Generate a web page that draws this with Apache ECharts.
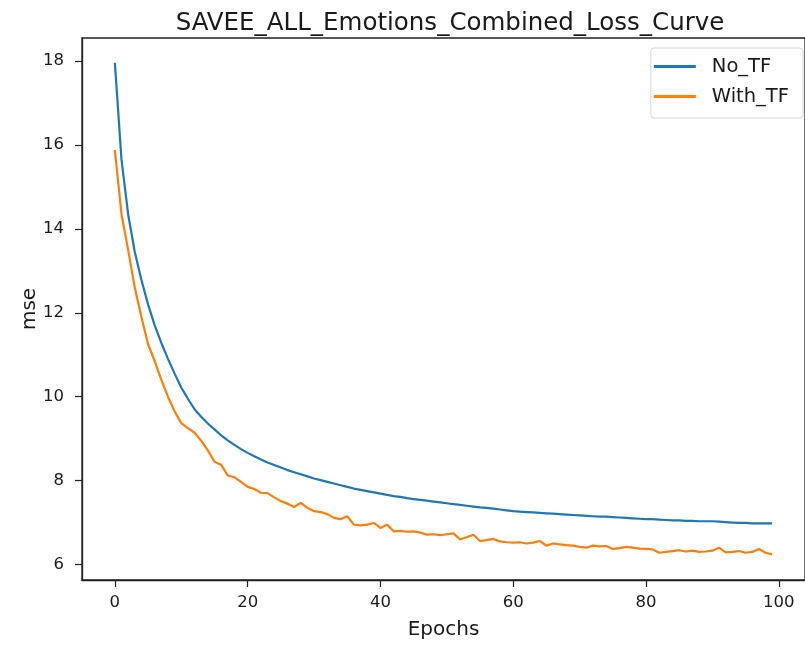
<!DOCTYPE html>
<html>

<head>
    <meta charset="utf-8">
    <script src="https://cdn.jsdelivr.net/npm/echarts@6/dist/echarts.min.js"></script>
    <style>
        html, body { margin: 0; padding: 0; background: #fff; }
        #main { width: 805px; height: 646px; }
    </style>
</head>

<body>
    <div id="main"></div>
    <script type="text/javascript">

        // values
        var noTF = [
            17.96, 15.65, 14.35, 13.45, 12.78, 12.2, 11.7, 11.28, 10.9, 10.55,
            10.22, 9.95, 9.7, 9.52, 9.36, 9.22, 9.08, 8.96, 8.85, 8.75,
            8.66, 8.58, 8.5, 8.43, 8.37, 8.31, 8.25, 8.2, 8.15, 8.1,
            8.05, 8.01, 7.97, 7.93, 7.89, 7.85, 7.81, 7.78, 7.75, 7.72,
            7.69, 7.66, 7.63, 7.61, 7.58, 7.56, 7.54, 7.52, 7.5, 7.48,
            7.46, 7.44, 7.42, 7.4, 7.38, 7.36, 7.35, 7.33, 7.31, 7.29,
            7.27, 7.26, 7.25, 7.24, 7.23, 7.22, 7.21, 7.2, 7.19, 7.18,
            7.17, 7.16, 7.15, 7.14, 7.14, 7.13, 7.12, 7.11, 7.1, 7.09,
            7.08, 7.08, 7.07, 7.06, 7.05, 7.05, 7.04, 7.04, 7.03, 7.03,
            7.03, 7.02, 7.01, 7.0, 6.99, 6.99, 6.98, 6.98, 6.98, 6.98
        ];
        var withTF = [
            15.88, 14.35, 13.5, 12.6, 11.9, 11.25, 10.85, 10.4, 10.0, 9.65,
            9.37, 9.25, 9.14, 8.95, 8.72, 8.45, 8.38, 8.12, 8.08, 7.97,
            7.85, 7.8, 7.71, 7.7, 7.6, 7.51, 7.45, 7.37, 7.47, 7.35,
            7.27, 7.25, 7.2, 7.11, 7.08, 7.15, 6.95, 6.93, 6.95, 6.99,
            6.87, 6.95, 6.79, 6.8, 6.78, 6.79, 6.76, 6.71, 6.72, 6.7,
            6.72, 6.74, 6.6, 6.65, 6.71, 6.56, 6.58, 6.61, 6.55, 6.53,
            6.52, 6.53, 6.5, 6.52, 6.56, 6.45, 6.5, 6.48, 6.46, 6.45,
            6.42, 6.4, 6.45, 6.43, 6.44, 6.37, 6.39, 6.42, 6.4, 6.38,
            6.37, 6.36, 6.28, 6.3, 6.32, 6.34, 6.31, 6.33, 6.3, 6.31,
            6.33, 6.4, 6.29, 6.3, 6.32, 6.28, 6.3, 6.37, 6.28, 6.24
        ];
        var xTicks = [0, 20, 40, 60, 80, 100];
        var yTicks = [6, 8, 10, 12, 14, 16, 18];

        var epochs = noTF.map(function (v, i) { return i; });

        function pairs(vals) {
            return vals.map(function (v, i) { return [epochs[i], v]; });
        }

        var font = 'DejaVu Sans';
        var ink = '#1a1a1a';
        var myChart = echarts.init(document.getElementById('main'), null, { renderer: 'canvas' });

        myChart.setOption({
            backgroundColor: '#fff',
            animation: false,
            title: {
                text: 'SAVEE_ALL_Emotions_Combined_Loss_Curve',
                left: 445,
                textAlign: 'center',
                top: 6,
                textStyle: { fontFamily: font, fontSize: 24.5, fontWeight: 'normal', color: ink }
            },
            legend: {
                orient: 'vertical',
                right: 2,
                top: 48,
                padding: [8, 14, 11, 3],
                itemGap: 9,
                itemWidth: 42,
                itemHeight: 3,
                backgroundColor: '#fff',
                borderColor: '#d6d6d6',
                borderWidth: 1,
                borderRadius: 3,
                textStyle: { fontFamily: font, fontSize: 19.5, lineHeight: 21, color: ink, padding: [0, 0, 0, 11] },
                data: [
                    { name: 'No_TF', icon: 'rect' },
                    { name: 'With_TF', icon: 'rect' }
                ]
            },
            grid: {
                left: 82,
                top: 38,
                width: 727,
                height: 542,
                show: true,
                borderColor: '#222',
                borderWidth: 1.3,
                backgroundColor: '#fff'
            },
            xAxis: {
                type: 'value',
                min: -4.95,
                max: 103.95,
                name: 'Epochs',
                nameLocation: 'middle',
                nameGap: 40,
                nameMoveOverlap: false,
                nameTextStyle: { fontFamily: font, fontSize: 20, color: ink },
                splitLine: { show: false },
                axisLine: { show: true, onZero: false, lineStyle: { color: '#222', width: 1.3 } },
                axisTick: { show: true, length: 7, customValues: xTicks, lineStyle: { color: '#222', width: 1.2 } },
                axisLabel: { customValues: xTicks, fontFamily: font, fontSize: 16.5, color: ink, margin: 14 }
            },
            yAxis: {
                type: 'value',
                min: 5.63,
                max: 18.55,
                name: 'mse',
                nameLocation: 'middle',
                nameGap: 42,
                nameMoveOverlap: false,
                nameTextStyle: { fontFamily: font, fontSize: 20, color: ink },
                splitLine: { show: false },
                axisLine: { show: true, onZero: false, lineStyle: { color: '#222', width: 1.3 } },
                axisTick: { show: true, length: 7, customValues: yTicks, lineStyle: { color: '#222', width: 1.2 } },
                axisLabel: { customValues: yTicks, fontFamily: font, fontSize: 16.5, color: ink, margin: 18 }
            },
            series: [
                {
                    name: 'No_TF',
                    type: 'line',
                    data: pairs(noTF),
                    showSymbol: false,
                    color: '#1f77b4',
                    lineStyle: { width: 2.2, color: '#1f77b4' }
                },
                {
                    name: 'With_TF',
                    type: 'line',
                    data: pairs(withTF),
                    showSymbol: false,
                    color: '#ff7f0e',
                    lineStyle: { width: 2.2, color: '#ff7f0e' }
                }
            ]
        });

        window.onresize = function () {
            myChart.resize();
        };
    </script>
</body>

</html>
